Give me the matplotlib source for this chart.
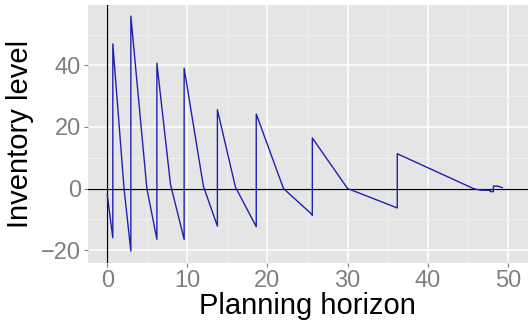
import matplotlib
matplotlib.use("Agg")
import matplotlib.pyplot as plt
from matplotlib.ticker import MultipleLocator

# tempo (horizonte de planejamento) e nivel de estoque
tempo = [0, 0.7, 0.7, 2.1, 2.95, 2.95, 4.95, 6.2, 6.2, 7.9, 9.6, 9.6,
         12.0, 13.75, 13.75, 16.0, 18.6, 18.6, 22.0, 25.3, 25.6, 25.6,
         30.0, 36.2, 36.2, 45.7, 46.5, 47.8, 47.8, 48.2, 48.2, 48.7, 49.3]
estoque = [-2, -16, 47, 0, -20.3, 56, 0, -16.5, 40.7, 1.3, -16.5, 39.1,
           0.8, -12.2, 25.6, 0.5, -12.4, 24.2, 0, -7.8, -8.7, 16.4,
           0, -6.3, 11.3, 0, -0.5, -0.6, -1, -1, 0.8, 0.8, 0.3]

plt.rcParams['font.family'] = ['Liberation Sans', 'DejaVu Sans']

fig = plt.figure(figsize=(5.3, 3.33), dpi=100)
ax = fig.add_axes([0.166, 0.21, 0.83, 0.775])
ax.set_facecolor('#E5E5E5')

ax.xaxis.set_major_locator(MultipleLocator(10))
ax.xaxis.set_minor_locator(MultipleLocator(5))
ax.yaxis.set_major_locator(MultipleLocator(20))
ax.yaxis.set_minor_locator(MultipleLocator(10))
ax.grid(True, which='major', color='white', linewidth=1.1)
ax.grid(True, which='minor', color='#F2F2F2', linewidth=0.6)
ax.set_axisbelow(True)

ax.axhline(0, color='black', linewidth=0.9)
ax.axvline(0, color='black', linewidth=0.9)
ax.plot(tempo, estoque, color='#2020B0', linewidth=1.0)

ax.set_xlim(-2.4, 52.5)
ax.set_ylim(-24.2, 59.6)

for s in ax.spines.values():
    s.set_visible(False)
ax.tick_params(which='major', length=3, color='#7F7F7F', labelcolor='#7F7F7F',
               labelsize=17, pad=2)
ax.tick_params(which='minor', length=0)

ax.set_xlabel("Planning horizon", fontsize=21, labelpad=0)
ax.set_ylabel("Inventory level", fontsize=21, labelpad=5)

fig.savefig("out.png", dpi=100)
